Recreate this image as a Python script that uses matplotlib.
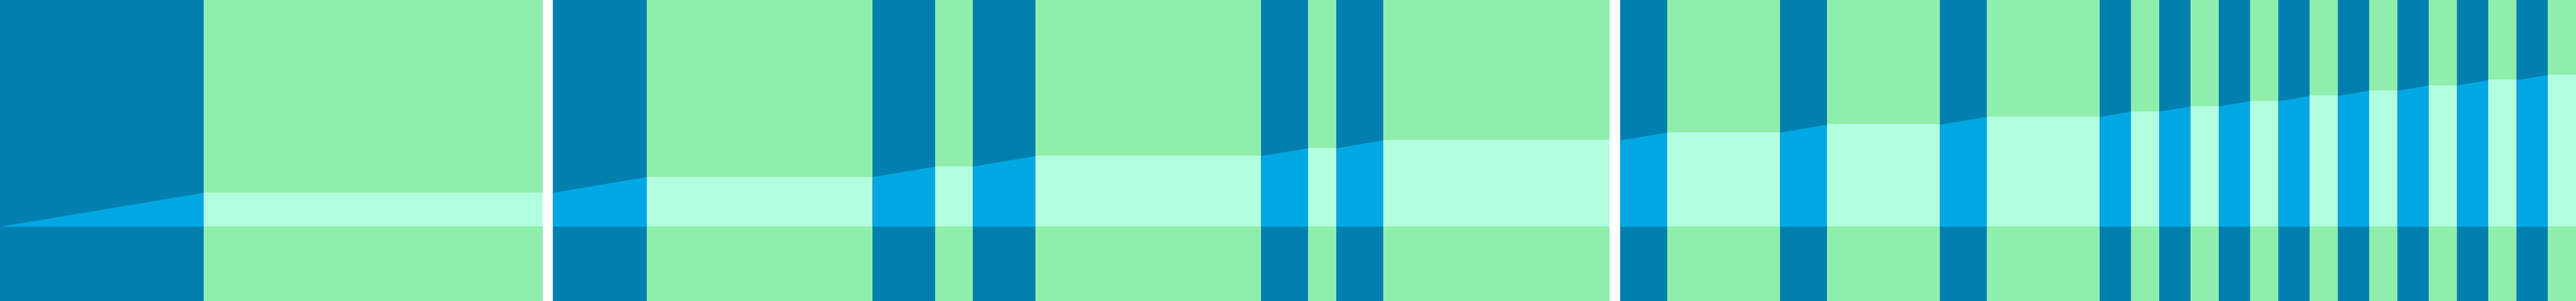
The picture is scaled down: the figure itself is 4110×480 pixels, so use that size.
import matplotlib
matplotlib.use("Agg")
import matplotlib.pyplot as plt

# Timeline bands (time units), alternating active / idle, with two data gaps
band_start = [0.0, 32.5, 88.2, 103.2, 139.2, 149.2, 155.2, 165.2, 201.2, 208.7, 213.2, 220.7,
              258.5, 266.0, 284.0, 291.5, 309.5, 317.0, 335.0, 340.0, 344.5, 349.5, 354.0,
              359.0, 363.5, 368.5, 373.0, 378.0, 382.5, 387.5, 392.0, 397.0, 401.5, 406.5]
band_end = [32.5, 86.6, 103.2, 139.2, 149.2, 155.2, 165.2, 201.2, 208.7, 213.2, 220.7, 256.8,
            266.0, 284.0, 291.5, 309.5, 317.0, 335.0, 340.0, 344.5, 349.5, 354.0, 359.0,
            363.5, 368.5, 373.0, 378.0, 382.5, 387.5, 392.0, 397.0, 401.5, 406.5, 411.0]
band_active = [1, 0] * 17
# Cumulative active time reached at the end of each band
cum_active = [32.5, 32.5, 47.5, 47.5, 57.5, 57.5, 67.5, 67.5, 75.0, 75.0, 82.5, 82.5,
              90.0, 90.0, 97.5, 97.5, 105.0, 105.0, 110.0, 110.0, 115.0, 115.0, 120.0,
              120.0, 125.0, 125.0, 130.0, 130.0, 135.0, 135.0, 140.0, 140.0, 145.0, 145.0]

dark_colors = {1: "#0180B0", 0: "#8FEEAC"}
light_colors = {1: "#00A8E3", 0: "#B2FFDF"}

fig = plt.figure(figsize=(41.1, 4.8), dpi=100)
ax = fig.add_axes([0, 0, 1, 1])
ax.set_xlim(0, 411.0)
ax.set_ylim(-71.3, 216.4)
ax.axis("off")

prev = 0.0
for s, e, a, c in zip(band_start, band_end, band_active, cum_active):
    ax.axvspan(s, e, color=dark_colors[a], lw=0, antialiased=False, zorder=1)
    ax.fill_between([s, e], [0, 0], [prev, c], color=light_colors[a], lw=0, zorder=2)
    prev = c

fig.savefig("out.png", dpi=100, facecolor="white")
